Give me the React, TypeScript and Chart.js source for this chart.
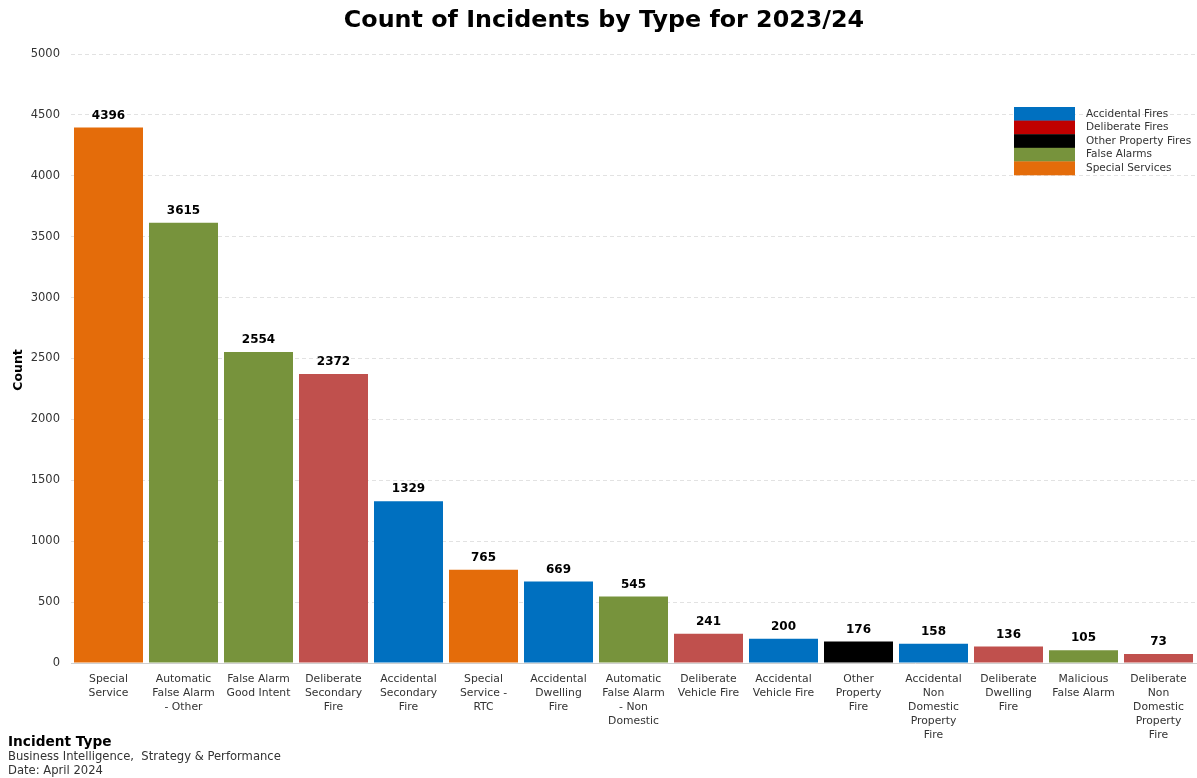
import React, { useEffect, useRef } from "react";
import { Chart, registerables } from "chart.js";

Chart.register(...registerables);

const categories: string[][] = [
  ["Special", "Service"],
  ["Automatic", "False Alarm", "- Other"],
  ["False Alarm", "Good Intent"],
  ["Deliberate", "Secondary", "Fire"],
  ["Accidental", "Secondary", "Fire"],
  ["Special", "Service -", "RTC"],
  ["Accidental", "Dwelling", "Fire"],
  ["Automatic", "False Alarm", "- Non", "Domestic"],
  ["Deliberate", "Vehicle Fire"],
  ["Accidental", "Vehicle Fire"],
  ["Other", "Property", "Fire"],
  ["Accidental", "Non", "Domestic", "Property", "Fire"],
  ["Deliberate", "Dwelling", "Fire"],
  ["Malicious", "False Alarm"],
  ["Deliberate", "Non", "Domestic", "Property", "Fire"],
];

const counts: number[] = [4396, 3615, 2554, 2372, 1329, 765, 669, 545, 241, 200, 176, 158, 136, 105, 73];

const groups: string[] = [
  "Special Services", "False Alarms", "False Alarms", "Deliberate Fires", "Accidental Fires",
  "Special Services", "Accidental Fires", "False Alarms", "Deliberate Fires", "Accidental Fires",
  "Other Property Fires", "Accidental Fires", "Deliberate Fires", "False Alarms", "Deliberate Fires",
];

const legendLabels: string[] = ["Accidental Fires", "Deliberate Fires", "Other Property Fires", "False Alarms", "Special Services"];
const legendColors: string[] = ["#0070C0", "#C00000", "#000000", "#77933C", "#E46C0A"];
const barGroupColors: Record<string, string> = {
  "Accidental Fires": "#0070C0",
  "Deliberate Fires": "#C0504D",
  "Other Property Fires": "#000000",
  "False Alarms": "#77933C",
  "Special Services": "#E46C0A",
};

const yTicks: number[] = [0, 500, 1000, 1500, 2000, 2500, 3000, 3500, 4000, 4500, 5000];

const titleText = "Count of Incidents by Type for 2023/24";
const xAxisTitle = "Incident Type";
const yAxisTitle = "Count";
const footerLines: string[] = ["Business Intelligence,  Strategy & Performance", "Date: April 2024"];

const FONT = "'DejaVu Sans', Verdana, sans-serif";

const decorPlugin = {
  id: "decor",
  afterDatasetsDraw(chart: any) {
    const ctx = chart.ctx;
    const meta = chart.getDatasetMeta(0);
    ctx.save();
    ctx.font = `bold 12px ${FONT}`;
    ctx.fillStyle = "#000";
    ctx.textAlign = "center";
    ctx.textBaseline = "bottom";
    meta.data.forEach((bar: any, i: number) => {
      ctx.fillText(String(counts[i]), bar.x, bar.y - 6);
    });
    ctx.restore();
  },
  afterDraw(chart: any) {
    const ctx = chart.ctx;
    ctx.save();
    // title
    ctx.font = `bold 23.8px ${FONT}`;
    ctx.fillStyle = "#000";
    ctx.textAlign = "center";
    ctx.textBaseline = "middle";
    ctx.fillText(titleText, 604, 21);

    // y axis title
    ctx.save();
    ctx.translate(19, 370);
    ctx.rotate(-Math.PI / 2);
    ctx.font = `bold 12.5px ${FONT}`;
    ctx.fillText(yAxisTitle, 0, 0);
    ctx.restore();

    // legend
    const lx = 1014, lw = 61, ly = 107, lh = 13.6;
    legendLabels.forEach((lab, i) => {
      ctx.fillStyle = legendColors[i];
      ctx.fillRect(lx, ly + i * lh, lw, lh + 0.3);
      ctx.fillStyle = "#333";
      ctx.font = `10.5px ${FONT}`;
      ctx.textAlign = "left";
      ctx.textBaseline = "middle";
      ctx.fillText(lab, 1086, ly + i * lh + lh / 2);
    });

    // footer
    ctx.textAlign = "left";
    ctx.textBaseline = "middle";
    ctx.fillStyle = "#000";
    ctx.font = `bold 13.7px ${FONT}`;
    ctx.fillText(xAxisTitle, 8, 742);
    ctx.fillStyle = "#333";
    ctx.font = `11.6px ${FONT}`;
    footerLines.forEach((t, i) => ctx.fillText(t, 8, 757 + i * 14));
    ctx.restore();
  },
};

export default function App() {
  const ref = useRef<HTMLCanvasElement | null>(null);
  useEffect(() => {
    document.body.style.margin = "0";
    const canvas = ref.current!;
    const chart = new Chart(canvas, {
      type: "bar",
      data: {
        labels: categories,
        datasets: [
          {
            data: counts,
            backgroundColor: groups.map((g) => barGroupColors[g]),
            borderWidth: 0,
            categoryPercentage: 0.92,
            barPercentage: 1,
          },
        ],
      },
      options: {
        animation: false,
        responsive: false,
        maintainAspectRatio: false,
        devicePixelRatio: 1,
        layout: { padding: { top: 54, left: 0, right: 1, bottom: 0 } },
        plugins: {
          legend: { display: false },
          tooltip: { enabled: false },
          title: { display: false },
        },
        scales: {
          x: {
            afterFit: (s: any) => {
              s.height = 115;
            },
            grid: { display: false },
            border: { display: true, color: "#cfcfcf" },
            ticks: {
              color: "#333",
              font: { family: FONT, size: 10.8, lineHeight: 14 / 10.8 },
              padding: 1,
              maxRotation: 0,
              minRotation: 0,
              autoSkip: false,
            },
          },
          y: {
            min: 0,
            max: 5000,
            afterFit: (s: any) => {
              s.width = 71;
            },
            afterBuildTicks: (s: any) => {
              s.ticks = yTicks.map((v) => ({ value: v }));
            },
            grid: {
              color: "#e2e2e2",
              drawTicks: false,
            },
            border: { display: false, dash: [4, 3] },
            ticks: {
              color: "#333",
              font: { family: FONT, size: 11.5 },
              padding: 11,
              callback: (v: any) => String(v),
            },
          },
        },
      },
      plugins: [decorPlugin],
    } as any);
    return () => chart.destroy();
  }, []);
  return <canvas ref={ref} width={1197} height={778} style={{ display: "block" }} />;
}
